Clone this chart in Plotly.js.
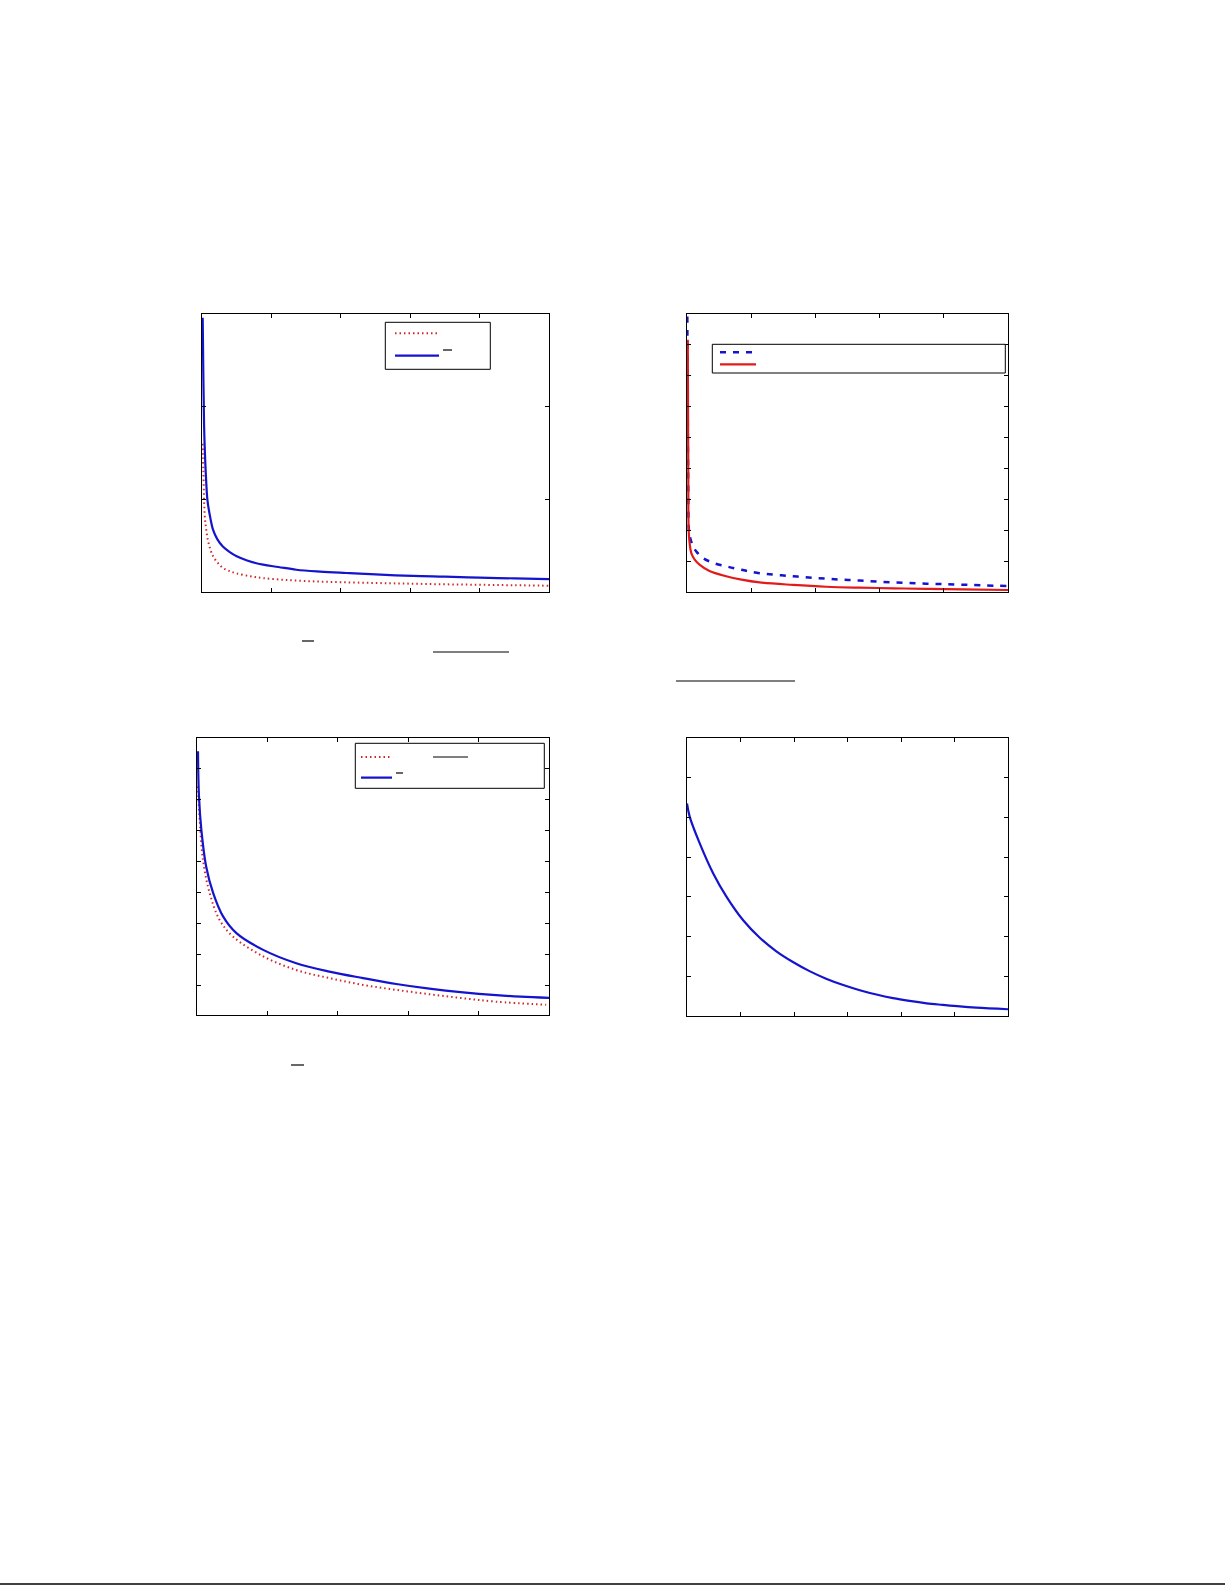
<!DOCTYPE html>
<html>
<head>
<meta charset="utf-8">
<script src="https://cdn.plot.ly/plotly-3.0.1.min.js"></script>
<style>
  html, body { margin: 0; padding: 0; background: #fff; }
  #plot { width: 1225px; height: 1585px; }
</style>
</head>
<body>
<div id="plot"></div>
<script>
// panel 1 (top left)
const p1BlueX = [0.01, 0.02, 0.03, 0.04, 0.06, 0.08, 0.12, 0.16, 0.22, 0.3, 0.4, 0.5, 0.65, 0.88, 1.1, 1.36, 1.7, 2.08, 2.5, 3.04, 3.5, 4.0, 4.5, 5.0]
const p1BlueY = [2.96, 2.3, 1.8, 1.54, 1.2, 0.98, 0.8, 0.67, 0.57, 0.49, 0.43, 0.385, 0.34, 0.295, 0.27, 0.24, 0.22, 0.205, 0.19, 0.173, 0.165, 0.155, 0.147, 0.14]
const p1RedX = [0.01, 0.02, 0.04, 0.06, 0.085, 0.12, 0.16, 0.22, 0.3, 0.4, 0.5, 0.7, 0.88, 1.2, 1.6, 2.0, 2.5, 3.0, 3.5, 4.0, 4.5, 5.0]
const p1RedY = [1.6, 1.3, 0.82, 0.68, 0.56, 0.46, 0.385, 0.32, 0.26, 0.225, 0.2, 0.17, 0.15, 0.13, 0.115, 0.106, 0.097, 0.09, 0.083, 0.078, 0.073, 0.068]

// panel 2 (top right)
const p2BlueX = [0.005, 0.01, 0.015, 0.02, 0.03, 0.05, 0.094, 0.15, 0.25, 0.4, 0.61, 0.85, 1.13, 1.65, 2.17, 2.69, 3.21, 3.73, 4.25, 5.0]
const p2BlueY = [8.92, 6.5, 4.5, 3.2, 2.0, 1.75, 1.48, 1.3, 1.1, 0.95, 0.83, 0.72, 0.61, 0.51, 0.43, 0.37, 0.31, 0.27, 0.24, 0.19]
const p2RedX = [0.012, 0.016, 0.02, 0.026, 0.04, 0.067, 0.12, 0.2, 0.35, 0.61, 0.85, 1.13, 1.65, 2.17, 2.69, 3.21, 3.73, 4.3, 5.0]
const p2RedY = [8.17, 6.0, 4.0, 2.0, 1.6, 1.26, 1.05, 0.88, 0.68, 0.51, 0.4, 0.31, 0.23, 0.17, 0.14, 0.12, 0.1, 0.085, 0.065]

// panel 3 (bottom left)
const p3BlueX = [0.014, 0.028, 0.062, 0.13, 0.23, 0.37, 0.56, 0.94, 1.41, 1.88, 2.36, 2.83, 3.3, 3.78, 4.25, 4.6, 5.0]
const p3BlueY = [8.54, 7.09, 6.01, 4.83, 3.97, 3.22, 2.68, 2.14, 1.71, 1.44, 1.23, 1.04, 0.89, 0.77, 0.68, 0.63, 0.59]
const p3RedX = [0.014, 0.038, 0.085, 0.18, 0.32, 0.51, 0.94, 1.41, 1.88, 2.36, 2.83, 3.3, 3.78, 4.25, 4.96]
const p3RedY = [7.41, 6.33, 5.04, 3.97, 3.11, 2.57, 1.93, 1.49, 1.23, 1.01, 0.85, 0.71, 0.58, 0.47, 0.37]

// panel 4 (bottom right)
const p4X = [0, 0.05, 0.24, 0.49, 0.74, 1.05, 1.36, 1.67, 1.98, 2.29, 2.6, 2.92, 3.23, 3.54, 3.85, 4.16, 4.48, 4.78, 5.1, 5.41, 6.0]
const p4Y = [5.35, 5.02, 4.34, 3.59, 3.0, 2.41, 1.97, 1.63, 1.36, 1.13, 0.94, 0.78, 0.65, 0.54, 0.45, 0.38, 0.32, 0.28, 0.24, 0.21, 0.17]

const W = 1225, H = 1585
const px = v => v / W
const py = v => 1 - v / H

const blue = "#1414cc", red = "#e41a1a", dotRed = "#d02828"

function curve(x, y, xa, ya, legend, line){
    line.shape = "spline"
    line.smoothing = 1
    const t = {x: x, y: y, xaxis: xa, yaxis: ya, name: "", mode: "lines", line: line}
    if (legend) t.legend = legend
    else t.showlegend = false
    return t
}

const data = [
    curve(p1RedX, p1RedY, "x", "y", "legend", {color: dotRed, width: 2, dash: "1.5px,3px"}),
    curve(p1BlueX, p1BlueY, "x", "y", "legend2", {color: blue, width: 2.2}),
    curve(p2BlueX, p2BlueY, "x2", "y2", "legend3", {color: blue, width: 2.5, dash: "6px,7px"}),
    curve(p2RedX, p2RedY, "x2", "y2", "legend4", {color: red, width: 2.2}),
    curve(p3RedX, p3RedY, "x3", "y3", "legend5", {color: dotRed, width: 2, dash: "1.5px,3px"}),
    curve(p3BlueX, p3BlueY, "x3", "y3", "legend6", {color: blue, width: 2.2}),
    curve(p4X, p4Y, "x4", "y4", null, {color: blue, width: 2.2})
]

function ax(domain, range, dtick, anchor){
    return {
        domain: domain, range: range, dtick: dtick, tick0: 0, anchor: anchor,
        showgrid: false, zeroline: false, showticklabels: false,
        showline: true, linecolor: "#000", linewidth: 1, mirror: "ticks",
        ticks: "inside", ticklen: 4, tickcolor: "#000", tickwidth: 1
    }
}

function leg(x0, yc, w){
    return {
        x: px(x0 - 5), y: py(yc), xanchor: "left", yanchor: "middle",
        xref: "paper", yref: "paper", bgcolor: "rgba(0,0,0,0)", borderwidth: 0,
        font: {size: 8}, itemwidth: w
    }
}

function box(x0, x1, y0, y1){
    return {type: "rect", xref: "paper", yref: "paper", layer: "above",
        x0: px(x0), x1: px(x1), y0: py(y1), y1: py(y0),
        line: {color: "#000", width: 1}, fillcolor: "#fff"}
}

function bar(x0, x1, y, w){
    return {type: "line", xref: "paper", yref: "paper",
        x0: px(x0), x1: px(x1), y0: py(y), y1: py(y),
        line: {color: "#000", width: w || 1.2}}
}

const layout = {
    width: W, height: H,
    margin: {l: 0, r: 0, t: 0, b: 0},
    paper_bgcolor: "#fff", plot_bgcolor: "#fff",
    xaxis: ax([px(202), px(549)], [0, 5], 1, "y"),
    yaxis: ax([py(592), py(314)], [0, 3], 1, "x"),
    xaxis2: ax([px(687), px(1008)], [0, 5], 1, "y2"),
    yaxis2: ax([py(592), py(314)], [0, 9], 1, "x2"),
    xaxis3: ax([px(197), px(549)], [0, 5], 1, "y3"),
    yaxis3: ax([py(1015), py(738)], [0.04, 8.97], 1, "x3"),
    xaxis4: ax([px(687), px(1008)], [0, 6], 1, "y4"),
    yaxis4: ax([py(1016), py(738)], [0, 7], 1, "x4"),
    legend: leg(395, 333.3, 44),
    legend2: leg(395, 355.7, 44),
    legend3: leg(720, 352.3, 34),
    legend4: leg(720, 364.3, 36),
    legend5: leg(361, 757, 31),
    legend6: leg(361, 777.7, 31),
    shapes: [
        box(385.3, 490.3, 322.3, 369.3),
        box(712.3, 1005.3, 344.3, 373),
        box(355.3, 544.3, 743.3, 788.3),
        bar(443, 452, 350),
        bar(302, 314, 641),
        bar(433, 509, 652),
        bar(676, 795, 681),
        bar(433, 468, 757),
        bar(396, 403, 773),
        bar(291, 304, 1065),
        bar(0, 1225, 1584, 1.5)
    ]
}

Plotly.newPlot("plot", data, layout, {staticPlot: true, displayModeBar: false})
</script>
</body>
</html>
